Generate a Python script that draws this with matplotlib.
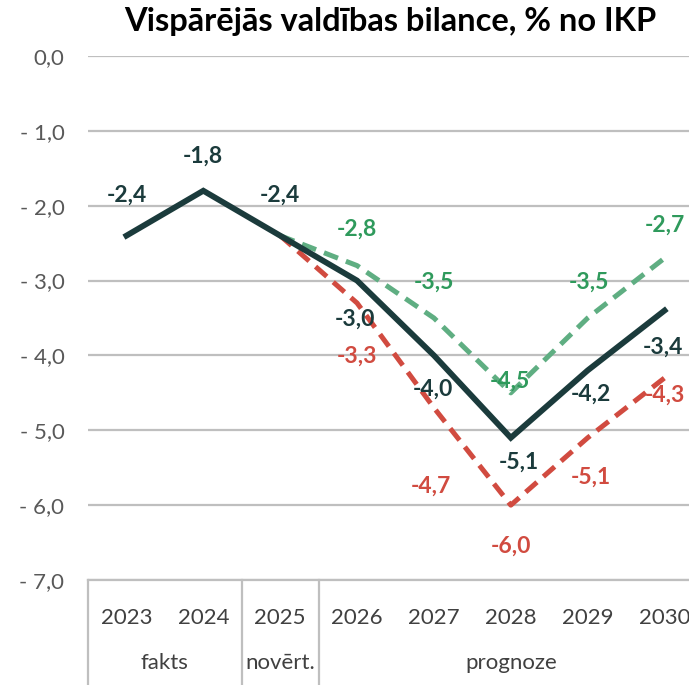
import matplotlib
matplotlib.use("Agg")
import matplotlib.pyplot as plt
from matplotlib.lines import Line2D

years = ["2023", "2024", "2025", "2026", "2027", "2028", "2029", "2030"]
base = [-2.4, -1.8, -2.4, -3.0, -4.0, -5.1, -4.2, -3.4]
green = [None, None, -2.4, -2.8, -3.5, -4.5, -3.5, -2.7]
red = [None, None, -2.4, -3.3, -4.7, -6.0, -5.1, -4.3]
groups = ["fakts", "novērt.", "prognoze"]
group_spans = [(0, 1), (2, 2), (3, 7)]
yticks = [0, -1, -2, -3, -4, -5, -6, -7]

C_DARK = "#1b3b3c"
C_GREEN_LINE = "#5fae82"
C_GREEN_TXT = "#2f9a5c"
C_RED = "#d14b40"
FONT = "Lato"

plt.rcParams['font.family'] = [FONT, 'DejaVu Sans']

fig = plt.figure(figsize=(6.89, 6.85), dpi=100)
ax = fig.add_axes([88/689, 1-580/685, (703-88)/689, (580-56)/685])

x = list(range(len(years)))
gx = [i for i in x if green[i] is not None]
ax.plot(gx, [red[i] for i in gx], color=C_RED, lw=3.6, dashes=(3.0, 1.7), zorder=3)
ax.plot(gx, [green[i] for i in gx], color=C_GREEN_LINE, lw=3.6, dashes=(3.0, 1.7), zorder=3)
ax.plot(x, base, color=C_DARK, lw=4.2, zorder=4, solid_joinstyle='miter')

ax.set_xlim(-0.5, len(years) - 0.5)
ax.set_ylim(-7, 0)
ax.set_yticks(yticks)

def ylab(v):
    if v == 0:
        return "0,0"
    return "- " + f"{abs(v):.1f}".replace(".", ",")
ax.set_yticklabels([ylab(v) for v in yticks], fontsize=16, color="#595959")
ax.tick_params(axis='y', length=0, pad=17)
ax.set_xticks(x)
ax.set_xticklabels(years, fontsize=16, color="#404040")
ax.tick_params(axis='x', length=0, pad=20)
ax.grid(axis='y', color="#bfbfbf", lw=1.6)
for s in ['top', 'right', 'left']:
    ax.spines[s].set_visible(False)
ax.spines['bottom'].set_color("#bfbfbf")
ax.spines['bottom'].set_linewidth(1.6)

# group separators
for b in [-0.5, 1.5, 2.5]:
    ax.add_line(Line2D([b, b], [0, -0.21], transform=ax.get_xaxis_transform(),
                       color="#bfbfbf", lw=1.6, clip_on=False))
for g, (a, b) in zip(groups, group_spans):
    ax.text((a + b) / 2, -0.159, g, transform=ax.get_xaxis_transform(),
            ha='center', va='center', fontsize=16, color="#404040")

def fmt(v):
    return f"{v:.1f}".replace(".", ",")

# label offsets in pixels (dx, dy)
base_off = [(0, 40), (0, 35), (0, 40), (-2, -39), (-1, -34), (8, -24), (3, -24), (-2, -37)]
green_off = {3: (0, 36), 4: (0, 36), 5: (-1, 12), 6: (1, 36), 7: (0, 33)}
red_off = {3: (0, -53), 4: (-3, -78), 5: (0, -41), 6: (3, -39), 7: (0, -17)}

LBL = 16.5
for i, v in enumerate(base):
    dx, dy = base_off[i]
    ax.annotate(fmt(v), (i, v), xytext=(dx, dy), textcoords='offset pixels',
                ha='center', va='center', fontsize=LBL, fontweight='bold', color=C_DARK, zorder=6)
for i, (dx, dy) in green_off.items():
    ax.annotate(fmt(green[i]), (i, green[i]), xytext=(dx, dy), textcoords='offset pixels',
                ha='center', va='center', fontsize=LBL, fontweight='bold', color=C_GREEN_TXT, zorder=6)
for i, (dx, dy) in red_off.items():
    ax.annotate(fmt(red[i]), (i, red[i]), xytext=(dx, dy), textcoords='offset pixels',
                ha='center', va='center', fontsize=LBL, fontweight='bold', color=C_RED, zorder=6)

fig.text(390/689, 1-22/685, "Vispārējās valdības bilance, % no IKP", ha='center', va='center',
         fontsize=23.5, fontweight='bold', color="#000000")

fig.savefig("out.png", dpi=100)
